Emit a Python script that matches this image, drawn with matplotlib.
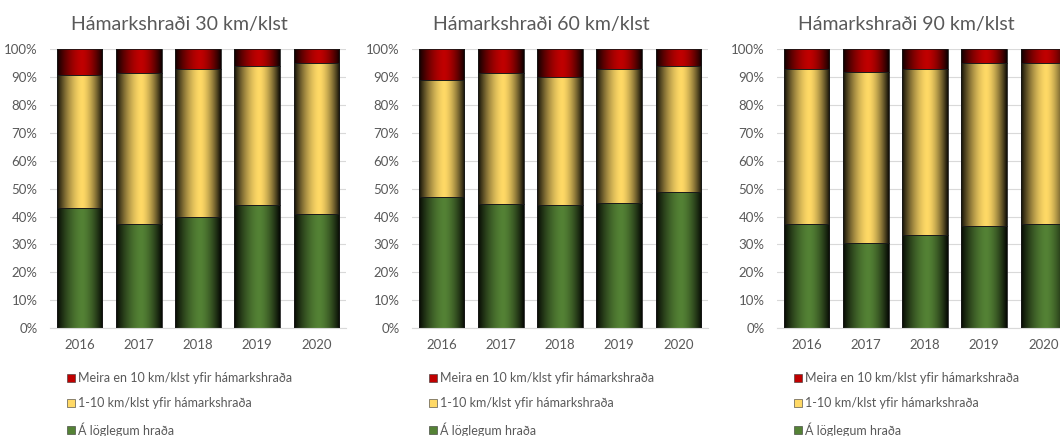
import numpy as np
import matplotlib
matplotlib.use("Agg")
import matplotlib.pyplot as plt
from matplotlib.patches import Patch
from matplotlib.ticker import PercentFormatter

plt.rcParams['font.family'] = ['Lato', 'DejaVu Sans']

years = ["2016", "2017", "2018", "2019", "2020"]
titles = ["Hámarkshraði 30 km/klst", "Hámarkshraði 60 km/klst", "Hámarkshraði 90 km/klst"]
labels = ["Á löglegum hraða", "1-10 km/klst yfir hámarkshraða", "Meira en 10 km/klst yfir hámarkshraða"]

# share of cars (%) per year
legal_30 = [43, 37.5, 40, 44, 41]
over1_10_30 = [48, 54, 53, 50, 54]
over10_30 = [9, 8.5, 7, 6, 5]

legal_60 = [47, 44.5, 44, 45, 49]
over1_10_60 = [42, 47, 46, 48, 45]
over10_60 = [11, 8.5, 10, 7, 6]

legal_90 = [37.5, 30.5, 33.5, 36.5, 37.5]
over1_10_90 = [55.5, 61.5, 59.5, 58.5, 57.5]
over10_90 = [7, 8, 7, 5, 5]

panels = [
    (legal_30, over1_10_30, over10_30),
    (legal_60, over1_10_60, over10_60),
    (legal_90, over1_10_90, over10_90),
]
colors = ["#548235", "#FFD966", "#C00000"]
grey = "#595959"


def gradient(color, n=64):
    base = np.array(matplotlib.colors.to_rgb(color))
    t = np.linspace(0, 1, n)
    c = 0.55
    d = np.where(t < c, (c - t) / c, (t - c) / (1 - c))
    f = 1 - 0.92 * d ** 1.6
    return (f[:, None] * base[None, :])[None, :, :]


W, H = 1060, 436
fig = plt.figure(figsize=(W / 100, H / 100), dpi=100)
lefts = [50, 412, 777]

for k, (left, title, series) in enumerate(zip(lefts, titles, panels)):
    ax = fig.add_axes([left / W, (H - 328) / H, 296 / W, 278.5 / H])
    x = np.arange(len(years))
    bottom = np.zeros(len(years))
    for vals, col in zip(series, colors):
        bars = ax.bar(x, vals, 0.77, bottom=bottom, facecolor="none",
                      edgecolor="#1a1a1a", linewidth=0.6, zorder=3)
        img = gradient(col)
        for p in bars.patches:
            ax.imshow(img, extent=[p.get_x(), p.get_x() + p.get_width(),
                                   p.get_y(), p.get_y() + p.get_height()],
                      aspect="auto", interpolation="bilinear", zorder=2)
        bottom += np.array(vals)

    ax.set_xlim(-0.5, len(years) - 0.5)
    ax.set_ylim(0, 100)
    ax.set_xticks(x, years)
    ax.set_yticks(np.arange(0, 101, 10))
    ax.yaxis.set_major_formatter(PercentFormatter(decimals=0))
    ax.grid(axis="y", color="#D9D9D9", linewidth=0.8, zorder=0)
    ax.set_axisbelow(True)
    for s in ["top", "right", "left"]:
        ax.spines[s].set_visible(False)
    ax.spines["bottom"].set_color("#D9D9D9")
    ax.tick_params(length=0, labelsize=9.5, colors=grey)
    ax.tick_params(axis="y", pad=9)
    ax.tick_params(axis="x", pad=8)
    ax.set_title(title, fontsize=14, color=grey, pad=14, x=0.5 - 19 / 296)

    handles = [Patch(facecolor=c, edgecolor="#333333", linewidth=0.4) for c in colors]
    leg = ax.legend(handles[::-1], labels[::-1], loc="upper left",
                    bbox_to_anchor=(12 / 296, -0.14), frameon=False,
                    fontsize=9, handlelength=0.6, handleheight=0.6,
                    handletextpad=0.3, labelspacing=1.05, borderaxespad=0)
    for t in leg.get_texts():
        t.set_color(grey)

fig.savefig("out.png", dpi=100)
